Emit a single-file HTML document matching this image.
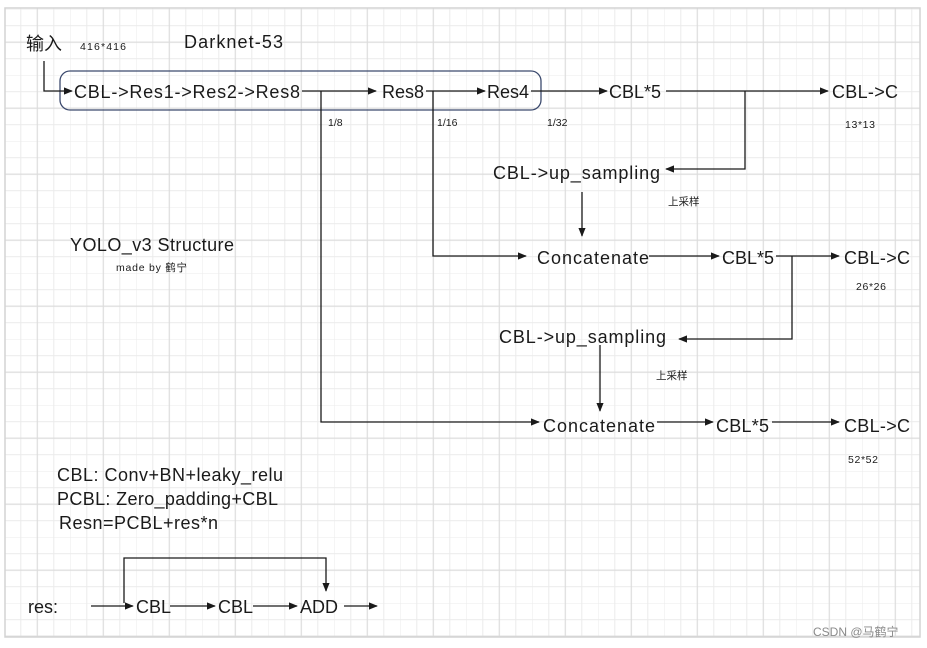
<!DOCTYPE html>
<html><head><meta charset="utf-8"><style>
html,body{margin:0;padding:0;background:#fff;}
svg{display:block;}
text{font-family:"Liberation Sans","Noto Sans CJK SC",sans-serif;fill:#1a1a1a;}
</style></head><body>
<svg width="927" height="648" viewBox="0 0 927 648" xmlns="http://www.w3.org/2000/svg">
<defs>
<pattern id="g" x="4.3" y="9.2" width="66" height="66" patternUnits="userSpaceOnUse">
<path d="M0 0V66M16.5 0V66M49.5 0V66M0 0H66M0 16.5H66M0 49.5H66" stroke="#ebebeb" stroke-width="1" fill="none"/>
<path d="M33 0V66M0 33H66" stroke="#dcdcdc" stroke-width="1.2" fill="none"/>
</pattern>
<marker id="a" viewBox="0 0 10 10" refX="9" refY="5" markerWidth="7" markerHeight="7" orient="auto"><path d="M0 1L10 5L0 9z" fill="#1a1a1a"/></marker>
</defs>
<rect x="5" y="8" width="915" height="629" fill="url(#g)" stroke="#d4d4d4" stroke-width="1.5"/>
<g stroke="#1a1a1a" stroke-width="1.3" fill="none">
<rect x="60" y="71" width="481" height="39" rx="10" stroke="#3c4a6e"/>
<path d="M44 61V91H72" marker-end="url(#a)"/>
<path d="M302 91H376" marker-end="url(#a)"/>
<path d="M426 91H485" marker-end="url(#a)"/>
<path d="M531 91H607" marker-end="url(#a)"/>
<path d="M666 91H828" marker-end="url(#a)"/>
<path d="M745 91V169H666" marker-end="url(#a)"/>
<path d="M582 192V236" marker-end="url(#a)"/>
<path d="M433 91V256H526" marker-end="url(#a)"/>
<path d="M649 256H719" marker-end="url(#a)"/>
<path d="M776 256H839" marker-end="url(#a)"/>
<path d="M792 256V339H679" marker-end="url(#a)"/>
<path d="M600 345V411" marker-end="url(#a)"/>
<path d="M321 91V422H539" marker-end="url(#a)"/>
<path d="M657 422H713" marker-end="url(#a)"/>
<path d="M772 422H839" marker-end="url(#a)"/>
<path d="M91 606H133" marker-end="url(#a)"/>
<path d="M170 606H215" marker-end="url(#a)"/>
<path d="M253 606H297" marker-end="url(#a)"/>
<path d="M344 606H377" marker-end="url(#a)"/>
<path d="M124 603V558H326V591" marker-end="url(#a)"/>
</g>
<g font-size="18">
<text x="26" y="50" textLength="36">输入</text>
<text x="184" y="48" textLength="99">Darknet-53</text>
<text x="74" y="98" textLength="226">CBL-&gt;Res1-&gt;Res2-&gt;Res8</text>
<text x="382" y="98" textLength="42">Res8</text>
<text x="487" y="98" textLength="42">Res4</text>
<text x="609" y="98" textLength="52">CBL*5</text>
<text x="832" y="98" textLength="66">CBL-&gt;C</text>
<text x="493" y="179" textLength="167">CBL-&gt;up_sampling</text>
<text x="537" y="264" textLength="112">Concatenate</text>
<text x="722" y="264" textLength="52">CBL*5</text>
<text x="844" y="264" textLength="66">CBL-&gt;C</text>
<text x="499" y="343" textLength="167">CBL-&gt;up_sampling</text>
<text x="543" y="432" textLength="112">Concatenate</text>
<text x="716" y="432" textLength="53">CBL*5</text>
<text x="844" y="432" textLength="66">CBL-&gt;C</text>
<text x="70" y="251" textLength="164">YOLO_v3 Structure</text>
<text x="57" y="481" textLength="226">CBL: Conv+BN+leaky_relu</text>
<text x="57" y="505" textLength="221">PCBL: Zero_padding+CBL</text>
<text x="59" y="529" textLength="159">Resn=PCBL+res*n</text>
<text x="28" y="613">res:</text>
<text x="136" y="613">CBL</text>
<text x="218" y="613">CBL</text>
<text x="300" y="613">ADD</text>
</g>
<g font-size="10.5">
<text x="80" y="50" textLength="46">416*416</text>
<text x="328" y="126">1/8</text>
<text x="437" y="126">1/16</text>
<text x="547" y="126">1/32</text>
<text x="845" y="128" textLength="30">13*13</text>
<text x="668" y="205">上采样</text>
<text x="856" y="290" textLength="30">26*26</text>
<text x="656" y="379">上采样</text>
<text x="848" y="463" textLength="30">52*52</text>
<text x="116" y="271" textLength="71">made by 鹤宁</text>
</g>
<text x="813" y="636" font-size="12" style="fill:#8a8a8a">CSDN @马鹤宁</text>
</svg>
</body></html>
